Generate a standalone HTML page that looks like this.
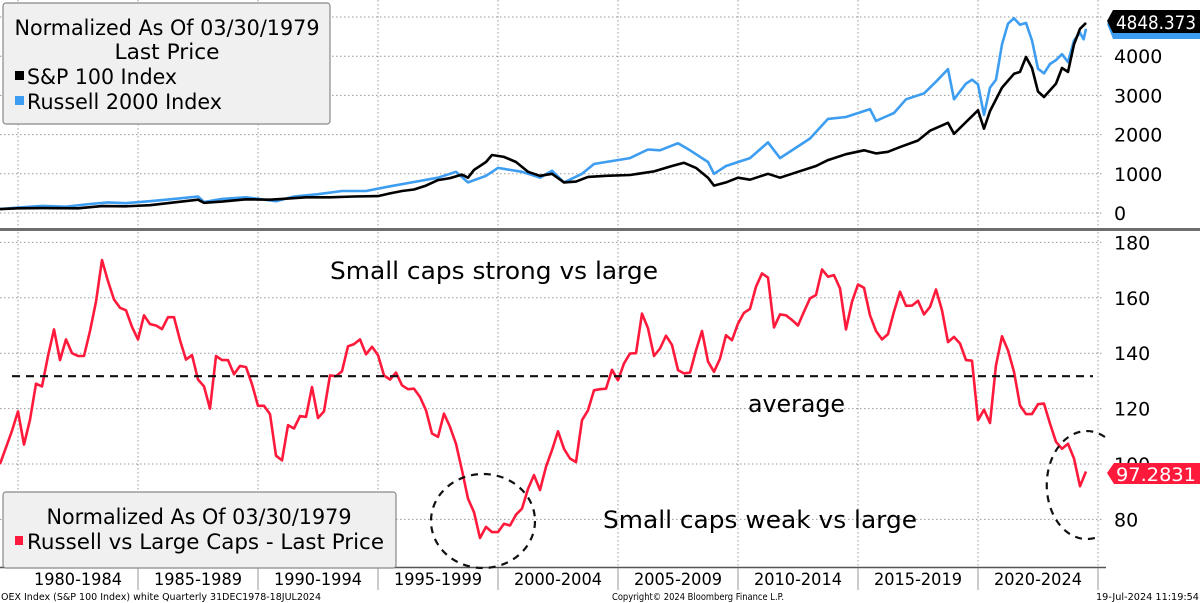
<!DOCTYPE html>
<html><head><meta charset="utf-8"><style>
html,body{margin:0;padding:0;background:#fff;}
svg{display:block;font-family:"DejaVu Sans","Liberation Sans",sans-serif;}
</style></head><body>
<svg id="c" width="1200" height="603" viewBox="0 0 1200 603" xmlns="http://www.w3.org/2000/svg">
<g id="grid"></g>
<g id="series"></g>
<g id="overlay"></g>
</svg>
<script>
// ---- data ----
const xTickLabels = ["1980-1984","1985-1989","1990-1994","1995-1999","2000-2004","2005-2009","2010-2014","2015-2019","2020-2024"];
const topTicks = [0,1000,2000,3000,4000,5000];
const botTicks = [80,100,120,140,160,180];
const spxDates = [1979.25,1980,1981,1982.5,1983.5,1984.5,1985.5,1986.5,1987.5,1987.75,1988.5,1989.5,1990.5,1991,1992,1993,1994,1995,1995.5,1996,1996.5,1997,1997.5,1998,1998.5,1998.75,1999,1999.5,1999.75,2000.25,2000.75,2001.25,2001.75,2002.25,2002.75,2003.25,2003.75,2004.5,2005.5,2006.5,2007.25,2007.75,2008.25,2008.75,2009,2009.5,2010,2010.5,2011.25,2011.75,2012.5,2013.25,2013.75,2014.5,2015.25,2015.75,2016.25,2016.75,2017.5,2018,2018.75,2019,2019.5,2020,2020.25,2020.5,2021,2021.5,2021.75,2022,2022.25,2022.5,2022.75,2023.25,2023.5,2023.75,2024,2024.25,2024.5];
const spxValues = [100,120,125,120,175,170,200,270,340,260,290,350,340,360,400,400,420,430,500,560,600,700,840,890,980,900,1100,1300,1480,1430,1300,1050,950,1000,780,800,920,950,970,1060,1200,1280,1150,900,700,780,900,850,1000,900,1050,1200,1350,1500,1600,1520,1560,1680,1850,2100,2300,2020,2320,2620,2150,2600,3200,3550,3600,3980,3700,3100,2960,3300,3700,3600,4300,4700,4848.373];
const rutDates = [1979.25,1980,1981,1982,1983,1983.75,1984.5,1985.5,1986.5,1987.5,1987.75,1988.5,1989.5,1990.75,1991.5,1992.5,1993.5,1994.5,1995.5,1996.5,1997.5,1998.25,1998.75,1999.5,2000,2000.5,2001,2001.75,2002.25,2002.75,2003.5,2004,2004.5,2005.5,2006.25,2006.75,2007.5,2008,2008.75,2009,2009.5,2010.5,2011.25,2011.75,2012.5,2013,2013.75,2014.5,2015.5,2015.75,2016.5,2017,2017.75,2018.25,2018.75,2019,2019.5,2019.75,2020,2020.25,2020.5,2020.75,2021,2021.25,2021.5,2021.75,2022,2022.25,2022.5,2022.75,2023,2023.25,2023.5,2023.75,2024,2024.25,2024.4,2024.5];
const rutValues = [100,140,180,160,230,270,250,300,360,420,280,360,400,300,420,480,560,560,680,790,900,1050,780,950,1150,1100,1050,900,1080,780,1000,1250,1300,1400,1620,1600,1780,1600,1300,1000,1200,1400,1800,1400,1700,1900,2400,2450,2650,2350,2550,2900,3050,3350,3670,2900,3300,3400,3280,2500,3200,3400,4300,4830,4970,4800,4850,4400,3680,3560,3800,3900,4050,3850,4400,4600,4430,4700];
const ratioStart = 1979.25;
const ratioValues = [100,106,112,119,107,116,129,128,139,148.6,137.5,145,140,139,139,148,158.6,173.6,166,159.4,156.4,155.5,149.5,145,153.7,150.5,150,148.7,153,153,144.7,137.7,139.3,130.5,128,120,139,137.5,137.5,132.4,135.4,135,128.8,121,121,118,103,101.3,114,112.8,117.3,117,127.8,116.6,119,132,131.7,133.5,142.5,143.3,145,139.6,142.3,139.3,132,130.5,133,128.4,127,127.2,124.2,119.4,111,109.8,118.2,113.4,107.3,97.7,87.5,82.6,73.3,77.3,75.4,75.4,78.4,77.8,81.7,83.9,91,96,90.6,99,105,111.8,105.5,102,100.7,115.8,119.4,126.6,127,127.2,134,130.2,136.3,139.9,140,154.3,149,139,141.7,146.3,143,133.9,132.7,133,141,148,137,133.3,138,146.5,144.7,150.7,154.6,156,164,168.8,167.3,149.3,154,153.7,152,150,155,159.8,161,170.2,167.6,168.2,163.4,148.6,158.6,164.8,163.6,153.7,148,145,146.9,155,162.2,157.1,157.2,158.9,154,156.7,163,155.5,144,145.9,143.5,137.5,137.3,115.8,119.6,114.8,135.7,146.1,141,133.3,121.2,118,118,121.6,121.8,114.6,108,105.5,107.3,102,92,97.2831];
const ratioAverage = 131.7;

// ---- scales ----
const X0 = 18, PXY = 24, PLOT_R = 1093;
const xs = yr => X0 + (yr - 1980) * PXY;
const yTop = v => 213 - v * 0.0392;
const yBot = v => 464 - (v - 100) * 2.77;
const NS = "http://www.w3.org/2000/svg";
function mk(tag, attrs, parent, text){
  const e = document.createElementNS(NS, tag);
  for (const k in attrs) e.setAttribute(k, attrs[k]);
  if (text !== undefined) e.textContent = text;
  parent.appendChild(e); return e;
}
const grid = document.getElementById('grid');
const series = document.getElementById('series');
const overlay = document.getElementById('overlay');

// gridlines
for (let yr = 1980; yr <= 2025; yr += 5) {
  const x = xs(yr);
  const l = mk('line', {x1:x, x2:x, y1:0, y2:567, stroke:'#9a9a9a', 'stroke-width':1, 'stroke-dasharray':'1.5,2.5'}, grid);
  
  
}
topTicks.forEach(t => {
  const y = yTop(t);
  const l = mk('line', {x1:0, x2:PLOT_R+10, y1:y, y2:y, stroke:'#9a9a9a', 'stroke-width':1, 'stroke-dasharray':'1.5,2.5'}, grid);
  
  
  const tx = mk('text', {x:1114, y:y+7, 'font-size':19, fill:'#000'}, grid, String(t));
  
  
});
botTicks.forEach(t => {
  const y = yBot(t);
  const l = mk('line', {x1:0, x2:PLOT_R+10, y1:y, y2:y, stroke:'#9a9a9a', 'stroke-width':1, 'stroke-dasharray':'1.5,2.5'}, grid);
  
  
  const tx = mk('text', {x:1114, y:y+7, 'font-size':19, fill:'#000'}, grid, String(t));
  
  
});
// panel separator & axis
let e;
e = mk('rect', {x:0, y:228, width:1200, height:3, fill:'#6e6e6e'}, grid);
 
e = mk('line', {x1:0, x2:1106, y1:567.5, y2:567.5, stroke:'#555', 'stroke-width':1.5}, grid);
 
for (let i = 0; i < xTickLabels.length; i++) {
  const a = xs(1980 + i*5), b = xs(1985 + i*5);
  const s = mk('line', {x1:b, x2:b, y1:568, y2:590, stroke:'#999', 'stroke-width':1}, grid);
  
  
  const tx = mk('text', {x:(a+b)/2, y:585, 'font-size':17, 'text-anchor':'middle', textLength:88, lengthAdjust:'spacingAndGlyphs'}, grid, xTickLabels[i]);
  
  
}

// series
function pathFrom(dates, vals, yf){
  return dates.map((d,i) => (i? 'L':'M') + xs(d).toFixed(1) + ',' + yf(vals[i]).toFixed(1)).join(' ');
}
e = mk('path', {d:pathFrom(rutDates, rutValues, yTop), fill:'none', stroke:'#3d9df0', 'stroke-width':2.6, 'stroke-linejoin':'round'}, series);
 
e = mk('path', {d:pathFrom(spxDates, spxValues, yTop), fill:'none', stroke:'#000', 'stroke-width':2.6, 'stroke-linejoin':'round'}, series);
 
const ratioDates = ratioValues.map((v,i) => ratioStart + i*0.25);
e = mk('path', {d:pathFrom(ratioDates, ratioValues, yBot), fill:'none', stroke:'#ff1a3c', 'stroke-width':2.6, 'stroke-linejoin':'round'}, series);
 
e = mk('line', {x1:12, x2:PLOT_R, y1:yBot(ratioAverage), y2:yBot(ratioAverage), stroke:'#111', 'stroke-width':2.2, 'stroke-dasharray':'8,6'}, series);
 

// circles
e = mk('ellipse', {cx:483, cy:521, rx:52, ry:47, fill:'none', stroke:'#111', 'stroke-width':2.2, 'stroke-dasharray':'7,6'}, overlay);
 
e = mk('path', {d:'M1105,437 A40,54 0 1,0 1100,536', fill:'none', stroke:'#111', 'stroke-width':2.2, 'stroke-dasharray':'7,6'}, overlay);
 

// annotations
e = mk('text', {x:330, y:279, 'font-size':24, textLength:328, lengthAdjust:'spacingAndGlyphs'}, overlay, 'Small caps strong vs large');
 
e = mk('text', {x:748, y:412, 'font-size':24, textLength:97, lengthAdjust:'spacingAndGlyphs'}, overlay, 'average');
 
e = mk('text', {x:603, y:528, 'font-size':24, textLength:314, lengthAdjust:'spacingAndGlyphs'}, overlay, 'Small caps weak vs large');
 

// top legend
e = mk('rect', {x:3, y:3, width:327, height:121, rx:3, fill:'#f0f0f0', stroke:'#888', 'stroke-width':1.2}, overlay);
 
e = mk('text', {x:167, y:35, 'font-size':21, 'text-anchor':'middle', textLength:305, lengthAdjust:'spacingAndGlyphs'}, overlay, 'Normalized As Of 03/30/1979');
 
e = mk('text', {x:167, y:59, 'font-size':21, 'text-anchor':'middle', textLength:105, lengthAdjust:'spacingAndGlyphs'}, overlay, 'Last Price');
 
e = mk('rect', {x:15, y:71, width:9, height:9, fill:'#000'}, overlay);
 
e = mk('text', {x:27, y:84, 'font-size':21, textLength:150, lengthAdjust:'spacingAndGlyphs'}, overlay, 'S&P 100 Index');
 
e = mk('rect', {x:15, y:96, width:9, height:9, fill:'#3d9df0'}, overlay);
 
e = mk('text', {x:27, y:109, 'font-size':21, textLength:195, lengthAdjust:'spacingAndGlyphs'}, overlay, 'Russell 2000 Index');
 

// bottom legend
e = mk('rect', {x:3, y:492, width:393, height:76, rx:3, fill:'#f0f0f0', stroke:'#888', 'stroke-width':1.2}, overlay);
 
e = mk('text', {x:199, y:524, 'font-size':21, 'text-anchor':'middle', textLength:305, lengthAdjust:'spacingAndGlyphs'}, overlay, 'Normalized As Of 03/30/1979');
 
e = mk('rect', {x:15, y:536, width:8, height:9, fill:'#ff1a3c'}, overlay);
 
e = mk('text', {x:27, y:549, 'font-size':21, textLength:357, lengthAdjust:'spacingAndGlyphs'}, overlay, 'Russell vs Large Caps - Last Price');
 

// last-value tags
e = mk('path', {d:'M1107,24 L1113,16 L1200,16 L1200,39 L1113,39 Z', fill:'#3d9df0'}, overlay);
 
e = mk('path', {d:'M1107,21 L1113,10 L1200,10 L1200,33 L1113,33 Z', fill:'#000'}, overlay);
 
e = mk('text', {x:1116, y:29, 'font-size':19, fill:'#fff', textLength:80, lengthAdjust:'spacingAndGlyphs'}, overlay, '4848.373');
 
e = mk('path', {d:'M1107,473 L1114,463 L1200,463 L1200,484 L1114,484 Z', fill:'#ff1a3c'}, overlay);
 
e = mk('text', {x:1116, y:481, 'font-size':19, fill:'#fff', textLength:80, lengthAdjust:'spacingAndGlyphs'}, overlay, '97.2831');
 

// footer
e = mk('text', {x:1, y:600, 'font-size':9.5, textLength:320, lengthAdjust:'spacingAndGlyphs'}, overlay, 'OEX Index (S&P 100 Index) white  Quarterly 31DEC1978-18JUL2024');
 
e = mk('text', {x:612, y:600, 'font-size':9.5, textLength:172, lengthAdjust:'spacingAndGlyphs'}, overlay, 'Copyright\u00A9 2024 Bloomberg Finance L.P.');
 
e = mk('text', {x:1096, y:600, 'font-size':9.5, textLength:103, lengthAdjust:'spacingAndGlyphs'}, overlay, '19-Jul-2024 11:19:54');
 
</script>
</body></html>
